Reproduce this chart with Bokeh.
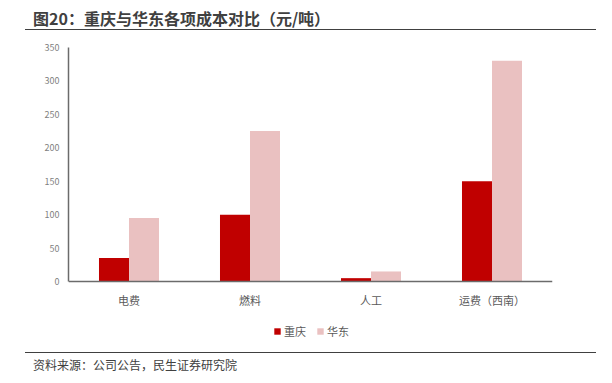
from bokeh.plotting import figure
from bokeh.models import FactorRange, Range1d, Legend, LegendItem, FixedTicker, Div
from bokeh.layouts import column
from bokeh.transform import dodge
from bokeh.embed import file_html
from bokeh.resources import INLINE

categories = ["电费", "燃料", "人工", "运费（西南）"]
chongqing = [35, 100, 5, 150]
huadong = [95, 225, 15, 330]
series_names = ["重庆", "华东"]
y_ticks = [0, 50, 100, 150, 200, 250, 300, 350]
title_text = "图20：重庆与华东各项成本对比（元/吨）"
source_text = "资料来源：公司公告，民生证券研究院"

FONT = "Noto Sans CJK SC"
RED = "#C00000"
PINK = "#EAC1C1"
GRAY = "#595959"
LIGHT = "#7F7F7F"
AXIS = "#6B6B6B"
DARK = "#404040"
W = 612
HDR_H, FTR_H = 36, 38
PLOT_H = 383 - HDR_H - FTR_H          # 309
TOP_BORDER = 11                        # frame top at canvas row 47
ZERO_FROM_BOTTOM = 64                  # value 0 sits 64 px above the figure bottom
Y_MAX = 350
px_per_unit = (PLOT_H - TOP_BORDER - ZERO_FROM_BOTTOM) / Y_MAX
y_start = -ZERO_FROM_BOTTOM / px_per_unit   # room under the axis for labels + legend

# ---------- header ----------
header = Div(width=W, height=HDR_H, margin=0, text=(
    f'<div style="position:relative;width:{W}px;height:{HDR_H}px;">'
    f'<div style="position:absolute;left:33px;top:8px;font-family:\'{FONT}\';font-size:16px;'
    f'font-weight:bold;color:{DARK};line-height:20px;white-space:nowrap;">{title_text}</div>'
    f'<div style="position:absolute;left:25px;width:571px;top:29px;height:1.4px;background:{DARK};"></div>'
    '</div>'))

# ---------- chart ----------
p = figure(width=W, height=PLOT_H, x_range=FactorRange(*categories), y_range=Range1d(y_start, Y_MAX),
           output_backend="svg", toolbar_location=None, margin=0,
           min_border_left=68, min_border_right=60, min_border_top=TOP_BORDER, min_border_bottom=0)
p.x_range.range_padding = 0
p.outline_line_color = None
p.grid.visible = False

data = dict(cat=categories, cq=chongqing, hd=huadong)
r1 = p.vbar(x=dodge("cat", -0.124, range=p.x_range), top="cq", width=0.248, source=data,
            fill_color=RED, line_color=None)
r2 = p.vbar(x=dodge("cat", 0.124, range=p.x_range), top="hd", width=0.248, source=data,
            fill_color=PINK, line_color=None)

for ax in (p.xaxis[0], p.yaxis[0]):
    ax.axis_line_color = AXIS
    ax.axis_line_width = 1.5
    ax.major_tick_line_color = None
    ax.minor_tick_line_color = None
    ax.major_label_text_font = FONT
p.xaxis.fixed_location = 0
p.xaxis.major_label_text_color = GRAY
p.xaxis.major_label_text_font_size = "11px"
p.xaxis.major_label_standoff = 4
p.yaxis.ticker = FixedTicker(ticks=y_ticks)
p.yaxis.bounds = (0, Y_MAX)
p.yaxis.major_label_text_color = LIGHT
p.yaxis.major_label_text_font_size = "9px"
p.yaxis.major_label_standoff = 3

legend = Legend(items=[LegendItem(label=series_names[0], renderers=[r1]),
                       LegendItem(label=series_names[1], renderers=[r2])],
                orientation="horizontal", location=(205, 6),
                label_text_font=FONT, label_text_font_size="11px", label_text_color=GRAY,
                glyph_width=8, glyph_height=8, spacing=10, label_standoff=3,
                border_line_color=None, background_fill_alpha=0, padding=2, margin=0)
p.add_layout(legend, "center")

# ---------- footer ----------
footer = Div(width=W, height=FTR_H, margin=0, text=(
    f'<div style="position:relative;width:{W}px;height:{FTR_H}px;">'
    f'<div style="position:absolute;left:25px;width:571px;top:6.5px;height:1.3px;background:{DARK};"></div>'
    f'<div style="position:absolute;left:33px;top:12px;font-family:\'{FONT}\';font-size:12px;'
    f'color:{DARK};line-height:16px;white-space:nowrap;">{source_text}</div>'
    '</div>'))

layout = column(header, p, footer, spacing=0, margin=0)
open("out.html", "w").write(file_html(layout, INLINE))
